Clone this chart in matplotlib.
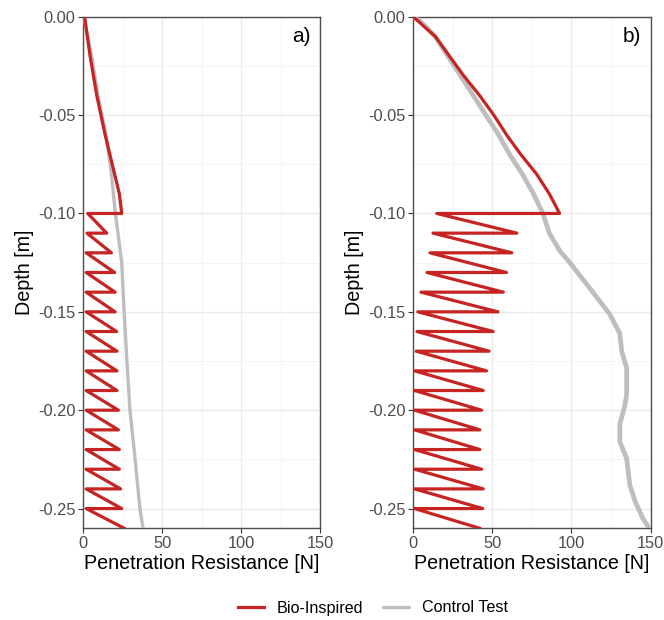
import matplotlib
matplotlib.use("Agg")
import matplotlib.pyplot as plt
import numpy as np
from matplotlib.ticker import MultipleLocator, FormatStrFormatter

plt.rcParams['font.family'] = ['Liberation Sans', 'DejaVu Sans']
plt.rcParams['axes.unicode_minus'] = False

# ---- panel a) ----
a_bio_top_depth = [0.0, -0.02, -0.04, -0.06, -0.08, -0.09, -0.10]
a_bio_top_force = [1.0, 4.5, 8.7, 14.0, 20.0, 23.0, 24.5]
# sawtooth after -0.10 m: trough at each step depth, peak at next step depth
a_step_depth = [-0.10, -0.11, -0.12, -0.13, -0.14, -0.15, -0.16, -0.17, -0.18,
                -0.19, -0.20, -0.21, -0.22, -0.23, -0.24, -0.25, -0.26]
a_peaks = [24.5, 15.0, 18.0, 20.0, 20.3, 20.3, 21.3, 21.5, 21.5,
           21.5, 22.4, 22.4, 23.0, 23.0, 23.8, 24.5, 26.0]
a_troughs = [3.0, 2.5, 2.0, 2.0, 2.0, 2.0, 2.0, 2.0, 2.0,
             2.0, 2.0, 2.0, 2.0, 2.0, 2.0, 2.0]
a_ctrl_depth = [0.0, -0.02, -0.04, -0.06, -0.08, -0.10, -0.125, -0.15, -0.175,
                -0.20, -0.225, -0.25, -0.26]
a_ctrl_force = [0.5, 5.5, 9.5, 14.5, 18.0, 20.5, 24.5, 26.0, 27.8,
                29.7, 33.0, 36.0, 38.0]

# ---- panel b) ----
b_bio_top_depth = [0.0, -0.002, -0.005, -0.01, -0.02, -0.03, -0.04, -0.05,
                   -0.06, -0.07, -0.08, -0.09, -0.10]
b_bio_top_force = [0.0, 3.0, 7.0, 14.0, 23.0, 32.0, 42.0, 51.0,
                   59.0, 68.0, 78.0, 86.0, 92.5]
b_step_depth = a_step_depth
b_peaks = [92.5, 65.5, 62.4, 59.0, 57.0, 53.6, 50.6, 48.0, 46.4,
           44.3, 43.3, 42.2, 42.2, 43.3, 44.3, 44.0, 42.0]
b_troughs = [15.0, 12.6, 10.7, 8.8, 5.0, 3.0, 2.5, 2.0, 1.0,
             1.0, 1.0, 1.0, 1.0, 1.0, 1.0, 1.0]
b_ctrl_depth = [0.0, -0.002, -0.005, -0.01, -0.02, -0.03, -0.04, -0.05, -0.06,
                -0.07, -0.08, -0.09, -0.10, -0.11, -0.119, -0.125, -0.136,
                -0.151, -0.161, -0.170, -0.1785, -0.192, -0.198, -0.207,
                -0.216, -0.2245, -0.238, -0.246, -0.255, -0.26]
b_ctrl_force = [0.0, 4.0, 8.0, 14.0, 22.0, 30.0, 38.0, 46.0, 54.0,
                61.0, 69.0, 76.0, 82.0, 86.0, 92.6, 99.0, 109.6,
                124.0, 130.5, 131.7, 134.8, 134.8, 133.6, 130.5,
                130.5, 134.8, 136.8, 140.0, 145.0, 149.0]

red = '#C62422'
grey = '#BEBEBE'


def bio_path(top_d, top_f, steps, peaks, troughs):
    xs = list(top_f)
    ys = list(top_d)
    for i in range(len(steps)):
        if i > 0:
            xs.append(peaks[i])
            ys.append(steps[i])
        if i < len(troughs):
            xs.append(troughs[i])
            ys.append(steps[i])
    return xs, ys


fig = plt.figure(figsize=(6.64, 6.2), dpi=100)
ax_a = fig.add_axes([0.125, 0.148, 0.357, 0.825])
ax_b = fig.add_axes([0.622, 0.148, 0.358, 0.825])

panels = [
    (ax_a, 'a)', a_bio_top_depth, a_bio_top_force, a_step_depth, a_peaks, a_troughs,
     a_ctrl_depth, a_ctrl_force, 2.4),
    (ax_b, 'b)', b_bio_top_depth, b_bio_top_force, b_step_depth, b_peaks, b_troughs,
     b_ctrl_depth, b_ctrl_force, 3.4),
]

for ax, lab, td, tf, st, pk, tr, cd, cf, cw in panels:
    ax.plot(cf, cd, color=grey, lw=cw, solid_capstyle='round', zorder=3,
            label='Control Test')
    bx, by = bio_path(td, tf, st, pk, tr)
    ax.plot(bx, by, color=red, lw=2.3, solid_joinstyle='round', zorder=4,
            label='Bio-Inspired')

    ax.set_xlim(0, 150)
    ax.set_ylim(-0.26, 0.0)
    ax.xaxis.set_major_locator(MultipleLocator(50))
    ax.xaxis.set_minor_locator(MultipleLocator(25))
    ax.yaxis.set_major_locator(MultipleLocator(0.05))
    ax.yaxis.set_minor_locator(MultipleLocator(0.025))
    ax.yaxis.set_major_formatter(FormatStrFormatter('%.2f'))
    ax.grid(which='major', color='#EBEBEB', lw=1.0, zorder=0)
    ax.grid(which='minor', color='#F2F2F2', lw=0.6, zorder=0)
    ax.set_axisbelow(True)
    ax.tick_params(which='major', length=3.5, width=0.8, color='#333333',
                   labelsize=11.8, labelcolor='#4D4D4D', pad=2)
    ax.tick_params(which='minor', length=0)
    for s in ax.spines.values():
        s.set_color('#4D4D4D')
        s.set_linewidth(1.0)
    ax.set_xlabel('Penetration Resistance [N]', fontsize=14.2, labelpad=2)
    ax.set_ylabel('Depth [m]', fontsize=14.2, labelpad=3)
    ax.text(0.96, 0.98, lab, transform=ax.transAxes, ha='right', va='top',
            fontsize=15)

handles, labels = ax_a.get_legend_handles_labels()
fig.legend([handles[1], handles[0]], [labels[1], labels[0]],
           loc='center', bbox_to_anchor=(373 / 664, 1 - 608 / 620), ncol=2,
           frameon=False, fontsize=11.6, handlelength=1.6, columnspacing=1.2,
           handletextpad=0.8)

fig.savefig('out.png', dpi=100)
